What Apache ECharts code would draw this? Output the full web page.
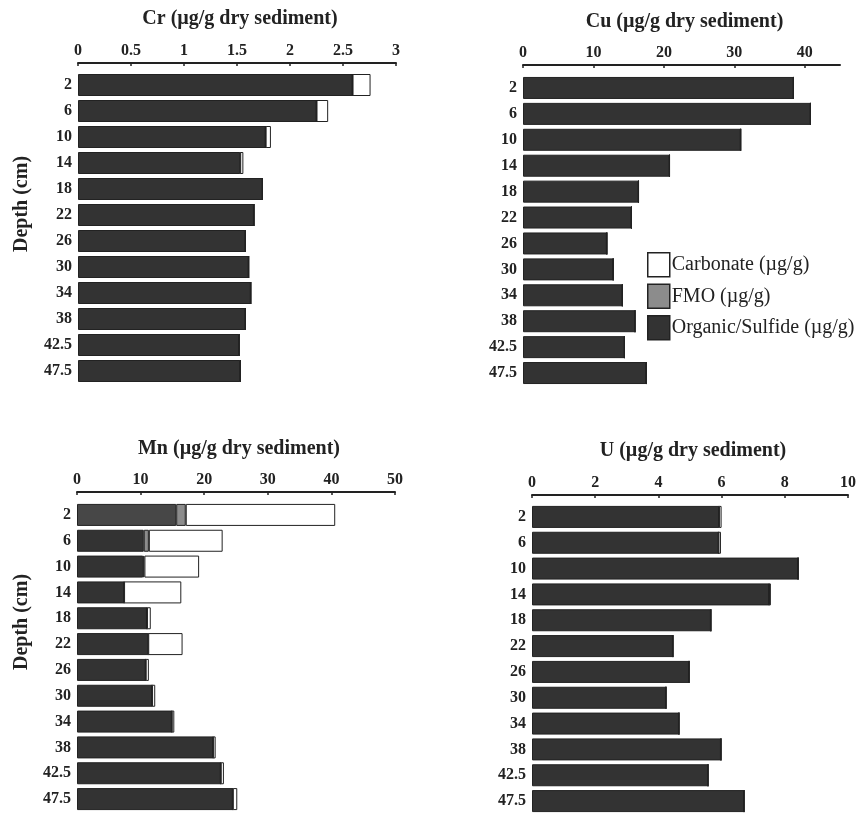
<!DOCTYPE html>
<html>
<head>
<meta charset="utf-8">
<style>
    html, body { margin: 0; padding: 0; background: #fff; }
    #main { width: 866px; height: 814px; }
</style>
<script src="https://cdn.jsdelivr.net/npm/echarts@6/dist/echarts.min.js"></script>
</head>
<body>
<div id="main"></div>
<script>
// 深度 (cm)
var depths = ['2', '6', '10', '14', '18', '22', '26', '30', '34', '38', '42.5', '47.5'];

// Cr
var crOrganic   = [2.59, 2.25, 1.77, 1.53, 1.74, 1.66, 1.58, 1.61, 1.63, 1.58, 1.52, 1.53];
var crFmo       = [0, 0, 0, 0, 0, 0, 0, 0, 0, 0, 0, 0];
var crCarbonate = [0.17, 0.11, 0.05, 0.03, 0, 0, 0, 0, 0, 0, 0, 0];

// Cu
var cuOrganic   = [38.4, 40.8, 30.9, 20.8, 16.4, 15.4, 11.9, 12.8, 14.1, 15.9, 14.4, 17.5];
var cuFmo       = [0, 0, 0, 0, 0, 0, 0, 0, 0, 0, 0, 0];
var cuCarbonate = [0, 0, 0, 0, 0, 0, 0, 0, 0, 0, 0, 0];

// Mn
var mnOrganic   = [15.6, 10.5, 10.4, 7.4, 11.0, 11.2, 10.8, 11.8, 14.9, 21.4, 22.6, 24.5];
var mnFmo       = [1.5, 0.8, 0.2, 0, 0, 0, 0, 0, 0, 0, 0, 0];
var mnCarbonate = [23.5, 11.6, 8.6, 9.0, 0.6, 5.4, 0.5, 0.5, 0.4, 0.4, 0.5, 0.7];

// U
var uOrganic   = [5.92, 5.9, 8.42, 7.5, 5.66, 4.46, 4.97, 4.24, 4.65, 5.98, 5.57, 6.71];
var uFmo       = [0, 0, 0, 0, 0, 0, 0, 0, 0, 0, 0, 0];
var uCarbonate = [0.08, 0.08, 0, 0.06, 0, 0, 0, 0, 0, 0, 0, 0];

// 坐标轴刻度
var crTicks = { max: 3, interval: 0.5 };
var cuTicks = { max: 45, interval: 10 };
var mnTicks = { max: 50, interval: 10 };
var uTicks  = { max: 10, interval: 2 };

var legendNames = ['Carbonate (µg/g)', 'FMO (µg/g)', 'Organic/Sulfide (µg/g)'];

var SERIF = '"Liberation Serif", "DejaVu Serif", serif';
var DARK = '#333333';

var panels = [
    { title: 'Cr (µg/g dry sediment)', grid: { left: 78, top: 72, width: 318, height: 312 }, offset: 9, ticks: crTicks, data: [crOrganic, crFmo, crCarbonate] },
    { title: 'Cu (µg/g dry sediment)', grid: { left: 523, top: 75, width: 317, height: 311 }, offset: 10, ticks: cuTicks, data: [cuOrganic, cuFmo, cuCarbonate] },
    { title: 'Mn (µg/g dry sediment)', grid: { left: 77, top: 502, width: 318, height: 310 }, offset: 10, ticks: mnTicks, data: [mnOrganic, mnFmo, mnCarbonate] },
    { title: 'U (µg/g dry sediment)',  grid: { left: 532, top: 504, width: 316, height: 311 }, offset: 9, ticks: uTicks, data: [uOrganic, uFmo, uCarbonate] }
];

var segStyles = [
    { name: legendNames[2], color: DARK },
    { name: legendNames[1], color: '#8c8c8c' },
    { name: legendNames[0], color: '#ffffff' }
];

function buildOption () {
    var grids = [], xAxes = [], yAxes = [], series = [], titles = [];
    panels.forEach(function (p, i) {
        grids.push(p.grid);
        titles.push({
            text: p.title,
            left: p.grid.left + p.grid.width / 2 - 2,
            top: p.grid.top - 68,
            textAlign: 'center',
            textStyle: { fontFamily: SERIF, fontWeight: 'bold', fontSize: 20, color: '#222' }
        });
        xAxes.push({
            type: 'value',
            gridIndex: i,
            position: 'top',
            offset: p.offset,
            min: 0,
            max: p.ticks.max,
            interval: p.ticks.interval,
            splitLine: { show: false },
            axisLine: { show: true, lineStyle: { color: '#222', width: 2 } },
            axisTick: { show: true, inside: true, length: 3, lineStyle: { color: '#222', width: 1.5 } },
            axisLabel: {
                margin: 4,
                fontFamily: SERIF, fontWeight: 'bold', fontSize: 16, color: '#222',
                showMaxLabel: p.ticks.max % p.ticks.interval === 0
            }
        });
        yAxes.push({
            type: 'category',
            gridIndex: i,
            data: depths,
            inverse: true,
            axisLine: { show: false },
            axisTick: { show: false },
            axisLabel: { margin: 6, fontFamily: SERIF, fontWeight: 'bold', fontSize: 16, color: '#222' }
        });
        p.data.forEach(function (vals, k) {
            var data = vals.slice();
            // Mn 2cm 有机部分颜色偏浅
            if (i === 2 && k === 0) {
                data = vals.map(function (v, j) {
                    return j === 0 ? { value: v, itemStyle: { color: '#474747' } } : v;
                });
            }
            series.push({
                name: segStyles[k].name,
                type: 'bar',
                stack: 'total' + i,
                xAxisIndex: i,
                yAxisIndex: i,
                barWidth: 22,
                data: data,
                itemStyle: { color: segStyles[k].color, borderColor: '#222', borderWidth: 1 },
                emphasis: { disabled: true }
            });
        });
    });
    return {
        backgroundColor: '#ffffff',
        animation: false,
        title: titles,
        legend: {
            orient: 'vertical',
            left: 642,
            top: 247,
            icon: 'rect',
            itemWidth: 22,
            itemHeight: 24,
            itemGap: 6,
            data: legendNames.map(function (n) {
                return { name: n, itemStyle: { borderColor: '#222', borderWidth: 1.5 } };
            }),
            textStyle: { fontFamily: SERIF, fontSize: 20, color: '#222', padding: [0, 0, 0, -3] }
        },
        graphic: [
            { type: 'text', x: 22, y: 204, rotation: Math.PI / 2, style: { text: 'Depth (cm)', font: 'bold 20px ' + SERIF, fill: '#222', textAlign: 'center', textVerticalAlign: 'middle' } },
            { type: 'text', x: 22, y: 622, rotation: Math.PI / 2, style: { text: 'Depth (cm)', font: 'bold 20px ' + SERIF, fill: '#222', textAlign: 'center', textVerticalAlign: 'middle' } }
        ],
        grid: grids,
        xAxis: xAxes,
        yAxis: yAxes,
        series: series
    };
}

var chart = echarts.init(document.getElementById('main'));
chart.setOption(buildOption());
window.onresize = function () {
    chart.resize();
};
</script>
</body>
</html>
